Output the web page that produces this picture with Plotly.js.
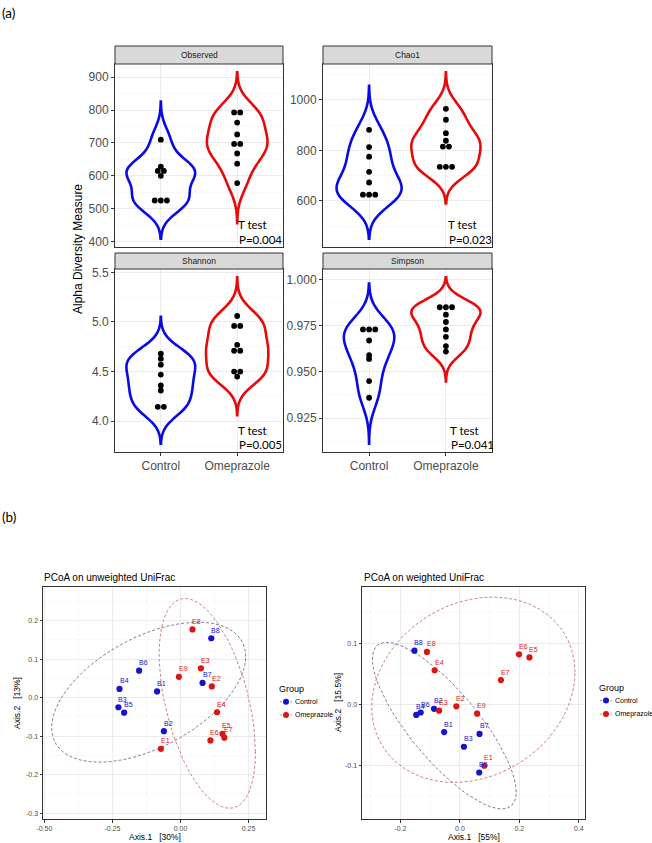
<!DOCTYPE html>
<html><head><meta charset="utf-8">
<script src="https://cdn.plot.ly/plotly-3.0.1.min.js"></script>
<style>html,body{margin:0;padding:0;background:#fff}</style>
</head><body><div id="chart" style="width:652px;height:843px"></div>
<script>
// ================= DATA =================
const groups = ['Control', 'Omeprazole'];
const metricNames = ['Observed', 'Chao1', 'Shannon', 'Simpson'];
const pValueLabels = ['P=0.004', 'P=0.023', 'P=0.005', 'P=0.041'];
const testLabel = 'T test';

const observedControl    = [710, 628, 615, 615, 600, 525, 525, 525];
const observedOmeprazole = [793, 793, 762, 726, 697, 697, 668, 637, 578];
const chao1Control       = [881, 813, 775, 715, 673, 625, 625, 625];
const chao1Omeprazole    = [964, 921, 868, 838, 815, 815, 735, 735, 735];
const shannonControl     = [4.68, 4.63, 4.57, 4.47, 4.36, 4.31, 4.145, 4.145];
const shannonOmeprazole  = [5.06, 4.96, 4.96, 4.77, 4.71, 4.71, 4.50, 4.50, 4.45];
const simpsonControl     = [0.973, 0.973, 0.973, 0.967, 0.959, 0.957, 0.945, 0.936];
const simpsonOmeprazole  = [0.985, 0.985, 0.985, 0.981, 0.977, 0.973, 0.969, 0.964, 0.961];

const observedTicks = [400, 500, 600, 700, 800, 900];
const observedTickText = ['400', '500', '600', '700', '800', '900'];
const chao1Ticks = [600, 800, 1000];
const chao1TickText = ['600', '800', '1000'];
const shannonTicks = [4.0, 4.5, 5.0, 5.5];
const shannonTickText = ['4.0', '4.5', '5.0', '5.5'];
const simpsonTicks = [0.925, 0.95, 0.975, 1.0];
const simpsonTickText = ['0.925', '0.950', '0.975', '1.000'];

// PCoA
const controlLabels = ['B1', 'B2', 'B3', 'B4', 'B5', 'B6', 'B7', 'B8'];
const omeprazoleLabels = ['E1', 'E2', 'E3', 'E4', 'E5', 'E6', 'E7', 'E8', 'E9'];

const unweightedControlAxis1 = [-0.086, -0.061, -0.228, -0.224, -0.207, -0.152, 0.081, 0.113];
const unweightedControlAxis2 = [0.016, -0.087, -0.025, 0.0225, -0.039, 0.070, 0.038, 0.154];
const unweightedOmeprazoleAxis1 = [-0.072, 0.115, 0.075, 0.134, 0.154, 0.110, 0.161, 0.044, -0.006];
const unweightedOmeprazoleAxis2 = [-0.133, 0.029, 0.076, -0.038, -0.094, -0.111, -0.104, 0.177, 0.054];

const weightedControlAxis1 = [-0.053, -0.087, 0.0135, -0.147, 0.065, -0.132, 0.066, -0.153];
const weightedControlAxis2 = [-0.045, -0.007, -0.069, -0.017, -0.111, -0.013, -0.048, 0.088];
const weightedOmeprazoleAxis1 = [0.082, -0.012, -0.070, -0.085, 0.234, 0.199, 0.138, -0.111, 0.058];
const weightedOmeprazoleAxis2 = [-0.100, -0.003, -0.010, 0.056, 0.077, 0.082, 0.040, 0.086, -0.015];

const pcoaTitles = ['PCoA on unweighted UniFrac', 'PCoA on weighted UniFrac'];
const axis1Titles = ['Axis.1   [30%]', 'Axis.1   [55%]'];
const axis2Titles = ['Axis.2   [13%]', 'Axis.2   [15.5%]'];
const legendTitle = 'Group';
const unweightedXTicks = [-0.5, -0.25, 0, 0.25];
const unweightedXTickText = ['-0.50', '-0.25', '0.00', '0.25'];
const unweightedYTicks = [-0.3, -0.2, -0.1, 0, 0.1, 0.2];
const unweightedYTickText = ['-0.3', '-0.2', '-0.1', '0.0', '0.1', '0.2'];
const weightedXTicks = [-0.2, 0, 0.2, 0.4];
const weightedXTickText = ['-0.2', '0.0', '0.2', '0.4'];
const weightedYTicks = [-0.1, 0, 0.1];
const weightedYTickText = ['-0.1', '0.0', '0.1'];

// ================= STYLE / LAYOUT CONSTANTS =================
const W = 652, H = 843;
const VIOLIN_COLORS = ['#0A0AE6', '#E60A0A'];
const POINT_COLORS = ['#1414CC', '#DD1414'];
const ELLIPSE_COLORS = ['#6E6E9E', '#C47474'];
const BASE_FONT = 'Liberation Sans, Arial, Helvetica, sans-serif';
const CAL_FONT = 'Lato, Carlito, Calibri, sans-serif';
const px = x => x / W;
const py = y => 1 - y / H;

// ================= HELPERS =================
function mean(a) { return a.reduce((s, v) => s + v, 0) / a.length; }
function q7(sorted, p) {
  const h = (sorted.length - 1) * p, lo = Math.floor(h);
  const hi = Math.min(lo + 1, sorted.length - 1);
  return sorted[lo] + (h - lo) * (sorted[hi] - sorted[lo]);
}
function bwNrd0(v) {
  const n = v.length, m = mean(v);
  const sd = Math.sqrt(v.reduce((s, x) => s + (x - m) * (x - m), 0) / (n - 1));
  const s = [...v].sort((a, b) => a - b);
  const iqr = q7(s, 0.75) - q7(s, 0.25);
  let lo = Math.min(sd, iqr / 1.34);
  if (!(lo > 0)) lo = sd || Math.abs(s[0]) || 1;
  return 0.9 * lo * Math.pow(n, -0.2);
}
function kdeMax(v, bw, from, to) {
  let mx = 0;
  for (let i = 0; i < 512; i++) {
    const y = from + (to - from) * i / 511;
    let d = 0;
    for (const x of v) d += Math.exp(-0.5 * ((y - x) / bw) ** 2);
    d /= v.length * bw * Math.sqrt(2 * Math.PI);
    if (d > mx) mx = d;
  }
  return mx;
}
function dotOffsets(vals, spacing) {
  const counts = {}, seen = {};
  vals.forEach(v => counts[v] = (counts[v] || 0) + 1);
  return vals.map(v => {
    const k = counts[v];
    const j = (seen[v] = (seen[v] || 0) + 1) - 1;
    return (j - (k - 1) / 2) * spacing;
  });
}
function minorFrom(ticks, lo, hi) {
  const step = (ticks[1] - ticks[0]) / 2;
  const out = [];
  for (let k = -40; k <= 80; k++) {
    const t = ticks[0] - step + 2 * step * k;
    if (t >= lo && t <= hi) out.push(+t.toFixed(6));
  }
  return out;
}
// MASS::cov.trob + ggplot2 stat_ellipse (type "t", level 0.95)
function tEllipse(xs, ys, level = 0.95, segments = 51) {
  const n = xs.length, p = 2, nu = 5;
  let loc = [mean(xs), mean(ys)];
  let w = new Array(n).fill(1);
  let dx, dy;
  for (let iter = 0; iter < 25; iter++) {
    const w0 = w.slice();
    dx = xs.map(v => v - loc[0]);
    dy = ys.map(v => v - loc[1]);
    const sw = w.reduce((a, b) => a + b, 0);
    let a = 0, b = 0, c = 0;
    for (let i = 0; i < n; i++) { a += w[i] * dx[i] * dx[i]; b += w[i] * dx[i] * dy[i]; c += w[i] * dy[i] * dy[i]; }
    a /= sw; b /= sw; c /= sw;
    const det = a * c - b * b;
    const Q = dx.map((_, i) => (c * dx[i] * dx[i] - 2 * b * dx[i] * dy[i] + a * dy[i] * dy[i]) / det);
    w = Q.map(q => (nu + p) / (nu + q));
    const sw2 = w.reduce((s, v) => s + v, 0);
    loc = [xs.reduce((s, v, i) => s + w[i] * v, 0) / sw2, ys.reduce((s, v, i) => s + w[i] * v, 0) / sw2];
    if (w.every((v, i) => Math.abs(v - w0[i]) < 0.01)) break;
  }
  let A = 0, B = 0, C = 0;
  for (let i = 0; i < n; i++) { A += w[i] * dx[i] * dx[i]; B += w[i] * dx[i] * dy[i]; C += w[i] * dy[i] * dy[i]; }
  A /= n; B /= n; C /= n;
  const R11 = Math.sqrt(A), R12 = B / R11, R22 = Math.sqrt(C - R12 * R12);
  const d = n - 1;
  const fq = (d / 2) * (Math.pow(1 - level, -2 / d) - 1);
  const r = Math.sqrt(2 * fq);
  const ex = [], ey = [];
  for (let s = 0; s <= segments; s++) {
    const t = s * 2 * Math.PI / segments;
    ex.push(loc[0] + r * Math.cos(t) * R11);
    ey.push(loc[1] + r * (Math.cos(t) * R12 + Math.sin(t) * R22));
  }
  return { x: ex, y: ey };
}

// ================= BUILD =================
const traces = [];
const shapes = [];
const annotations = [];
const layout = {
  width: W, height: H, margin: { l: 0, r: 0, t: 0, b: 0 },
  paper_bgcolor: '#fff', plot_bgcolor: '#fff',
  violinmode: 'overlay', showlegend: false, hovermode: false,
  font: { family: BASE_FONT, color: '#000' }
};

const axisCommon = {
  showline: true, mirror: true, linecolor: '#333', linewidth: 1,
  ticks: 'outside', ticklen: 3, tickwidth: 1, tickcolor: '#333',
  showgrid: true, gridcolor: '#EBEBEB', gridwidth: 1, zeroline: false,
  fixedrange: true, tickfont: { color: '#4D4D4D' }
};

const violinPanels = [
  { ctrl: observedControl, ome: observedOmeprazole, ticks: observedTicks, tt: observedTickText, rect: [115, 64, 283, 247], strip: 46, bottom: false, tx: 123 },
  { ctrl: chao1Control, ome: chao1Omeprazole, ticks: chao1Ticks, tt: chao1TickText, rect: [323, 64, 492, 247], strip: 46, bottom: false, tx: 125 },
  { ctrl: shannonControl, ome: shannonOmeprazole, ticks: shannonTicks, tt: shannonTickText, rect: [115, 269, 283, 452], strip: 253, bottom: true, tx: 123 },
  { ctrl: simpsonControl, ome: simpsonOmeprazole, ticks: simpsonTicks, tt: simpsonTickText, rect: [323, 269, 492, 452], strip: 253, bottom: true, tx: 127 }
];

violinPanels.forEach((pn, i) => {
  const k = i + 1;
  const xa = 'x' + k, ya = 'y' + k;
  const sets = [pn.ctrl, pn.ome];
  const info = sets.map(v => {
    const bw = bwNrd0(v);
    const lo = Math.min(...v) - 3 * bw, hi = Math.max(...v) + 3 * bw;
    return { bw, lo, hi, mx: kdeMax(v, bw, lo, hi) };
  });
  const pmax = Math.max(...info.map(o => o.mx));
  const lo = Math.min(...info.map(o => o.lo)), hi = Math.max(...info.map(o => o.hi));
  const ex = (hi - lo) * 0.05;
  const yr = [lo - ex, hi + ex];

  sets.forEach((v, g) => {
    traces.push({
      type: 'violin', x: v.map(() => g + 1), y: v, xaxis: xa, yaxis: ya,
      line: { color: VIOLIN_COLORS[g], width: 2.6 }, fillcolor: 'rgba(255,255,255,0)',
      points: false, box: { visible: false }, meanline: { visible: false },
      bandwidth: info[g].bw, spanmode: 'manual', span: [info[g].lo, info[g].hi],
      scalemode: 'width', width: 0.9 * info[g].mx / pmax,
      showlegend: false, hoverinfo: 'skip', name: groups[g]
    });
  });
  sets.forEach((v, g) => {
    const off = dotOffsets(v, 0.08);
    traces.push({
      type: 'scatter', mode: 'markers', x: v.map((_, j) => g + 1 + off[j]), y: v,
      xaxis: xa, yaxis: ya, marker: { color: '#000', size: 5.8 },
      showlegend: false, hoverinfo: 'skip'
    });
  });

  const r = pn.rect;
  layout['xaxis' + k] = Object.assign({}, axisCommon, {
    domain: [px(r[0]), px(r[2])], anchor: ya, range: [0.4, 2.6],
    tickmode: 'array', tickvals: [1, 2], ticktext: groups,
    showticklabels: pn.bottom, ticks: pn.bottom ? 'outside' : '',
    tickfont: { size: 12, color: '#4D4D4D' }
  });
  const mv = minorFrom(pn.ticks, yr[0], yr[1]);
  layout['yaxis' + k] = Object.assign({}, axisCommon, {
    domain: [py(r[3]), py(r[1])], anchor: xa, range: yr,
    tickmode: 'array', tickvals: pn.ticks, ticktext: pn.tt,
    tickfont: { size: 12, color: '#4D4D4D' },
    minor: { tickvals: mv, showgrid: true, gridcolor: '#F4F4F4', gridwidth: 0.6, ticks: '' }
  });

  // strip
  shapes.push({ type: 'rect', xref: 'paper', yref: 'paper', x0: px(r[0]), x1: px(r[2]), y0: py(r[1]), y1: py(pn.strip),
    fillcolor: '#D9D9D9', line: { color: '#333', width: 1 }, layer: 'above' });
  annotations.push({ xref: 'paper', yref: 'paper', x: px((r[0] + r[2]) / 2), y: py((r[1] + pn.strip) / 2),
    text: metricNames[i], showarrow: false, font: { size: 8.5, color: '#1A1A1A' }, xanchor: 'center', yanchor: 'middle' });
  // T test text
  annotations.push({ xref: 'paper', yref: 'paper', x: px(r[0] + pn.tx - 2), y: py(r[3] - 22), text: testLabel,
    showarrow: false, xanchor: 'left', yanchor: 'middle', font: { family: CAL_FONT, size: 11.5, color: '#000' } });
  annotations.push({ xref: 'paper', yref: 'paper', x: px(r[0] + pn.tx - 1), y: py(r[3] - 7), text: pValueLabels[i],
    showarrow: false, xanchor: 'left', yanchor: 'middle', font: { family: CAL_FONT, size: 11.5, color: '#000' } });
});

annotations.push({ xref: 'paper', yref: 'paper', x: px(78), y: py(249), text: 'Alpha Diversity Measure', textangle: -90,
  showarrow: false, xanchor: 'center', yanchor: 'middle', font: { size: 12, color: '#000' } });
annotations.push({ xref: 'paper', yref: 'paper', x: px(0), y: py(13), text: '(a)', showarrow: false,
  xanchor: 'left', yanchor: 'middle', font: { family: CAL_FONT, size: 13.5, color: '#000' } });
annotations.push({ xref: 'paper', yref: 'paper', x: px(0), y: py(517), text: '(b)', showarrow: false,
  xanchor: 'left', yanchor: 'middle', font: { family: CAL_FONT, size: 13.5, color: '#000' } });

// ---- PCoA ----
const pcoaPanels = [
  { cx: unweightedControlAxis1, cy: unweightedControlAxis2, ox: unweightedOmeprazoleAxis1, oy: unweightedOmeprazoleAxis2,
    rect: [43, 587, 266, 819], xr: [-0.505, 0.314], yr: [-0.315, 0.287],
    xt: unweightedXTicks, xtt: unweightedXTickText, yt: unweightedYTicks, ytt: unweightedYTickText,
    titleX: 42, ytitleX: 17, legTitleX: 277, legDotX: 286, legTextX: 293, legTitleY: 689, legRows: [701.7, 715] },
  { cx: weightedControlAxis1, cy: weightedControlAxis2, ox: weightedOmeprazoleAxis1, oy: weightedOmeprazoleAxis2,
    rect: [362, 587, 585, 819], xr: [-0.3295, 0.421], yr: [-0.187, 0.192],
    xt: weightedXTicks, xtt: weightedXTickText, yt: weightedYTicks, ytt: weightedYTickText,
    titleX: 362, ytitleX: 338, legTitleX: 597, legDotX: 606, legTextX: 613, legTitleY: 688, legRows: [700.5, 714] }
];

pcoaPanels.forEach((pn, i) => {
  const k = i + 5;
  const xa = 'x' + k, ya = 'y' + k;
  const sets = [[pn.cx, pn.cy, controlLabels], [pn.ox, pn.oy, omeprazoleLabels]];
  sets.forEach((s, g) => {
    const el = tEllipse(s[0], s[1]);
    traces.push({ type: 'scatter', mode: 'lines', x: el.x, y: el.y, xaxis: xa, yaxis: ya,
      line: { color: ELLIPSE_COLORS[g], width: 0.9, dash: '3px,2px' }, showlegend: false, hoverinfo: 'skip' });
  });
  sets.forEach((s, g) => {
    traces.push({ type: 'scatter', mode: 'markers', x: s[0], y: s[1], xaxis: xa, yaxis: ya,
      marker: { color: POINT_COLORS[g], size: 6.2 }, name: groups[g], showlegend: false, hoverinfo: 'skip' });
    s[2].forEach((lab, j) => {
      annotations.push({ xref: xa, yref: ya, x: s[0][j], y: s[1][j], text: lab, showarrow: false,
        xshift: 4.5, yshift: 8, font: { size: 7, color: POINT_COLORS[g] }, xanchor: 'center', yanchor: 'middle' });
    });
  });
  const r = pn.rect;
  layout['xaxis' + k] = Object.assign({}, axisCommon, {
    domain: [px(r[0]), px(r[2])], anchor: ya, range: pn.xr,
    tickmode: 'array', tickvals: pn.xt, ticktext: pn.xtt, ticklen: 2.5,
    tickfont: { size: 7, color: '#4D4D4D' },
    minor: { tickvals: minorFrom(pn.xt, pn.xr[0], pn.xr[1]), showgrid: true, gridcolor: '#F4F4F4', gridwidth: 0.6, ticks: '' }
  });
  layout['yaxis' + k] = Object.assign({}, axisCommon, {
    domain: [py(r[3]), py(r[1])], anchor: xa, range: pn.yr,
    tickmode: 'array', tickvals: pn.yt, ticktext: pn.ytt, ticklen: 2.5,
    tickfont: { size: 7, color: '#4D4D4D' },
    minor: { tickvals: minorFrom(pn.yt, pn.yr[0], pn.yr[1]), showgrid: true, gridcolor: '#F4F4F4', gridwidth: 0.6, ticks: '' }
  });
  annotations.push({ xref: 'paper', yref: 'paper', x: px(pn.titleX), y: py(577), text: pcoaTitles[i], showarrow: false,
    xanchor: 'left', yanchor: 'middle', font: { size: 10, color: '#000' } });
  annotations.push({ xref: 'paper', yref: 'paper', x: px((r[0] + r[2]) / 2), y: py(837), text: axis1Titles[i], showarrow: false,
    xanchor: 'center', yanchor: 'middle', font: { size: 8.5, color: '#000' } });
  annotations.push({ xref: 'paper', yref: 'paper', x: px(pn.ytitleX), y: py((r[1] + r[3]) / 2), text: axis2Titles[i], showarrow: false,
    textangle: -90, xanchor: 'center', yanchor: 'middle', font: { size: 8.5, color: '#000' } });

  // legend (key: dashed ellipse line + point)
  annotations.push({ xref: 'paper', yref: 'paper', x: px(pn.legTitleX), y: py(pn.legTitleY), text: legendTitle, showarrow: false,
    xanchor: 'left', yanchor: 'middle', font: { size: 9, color: '#000' } });
  groups.forEach((gname, g) => {
    const ry = pn.legRows[g];
    shapes.push({ type: 'line', xref: 'paper', yref: 'paper', x0: px(pn.legDotX - 6), x1: px(pn.legDotX + 6), y0: py(ry), y1: py(ry),
      line: { color: ELLIPSE_COLORS[g], width: 0.8, dash: '2px,1.5px' } });
    shapes.push({ type: 'circle', xref: 'paper', yref: 'paper', x0: px(pn.legDotX - 3), x1: px(pn.legDotX + 3), y0: py(ry + 3), y1: py(ry - 3),
      fillcolor: POINT_COLORS[g], line: { width: 0 } });
    annotations.push({ xref: 'paper', yref: 'paper', x: px(pn.legTextX), y: py(ry), text: gname, showarrow: false,
      xanchor: 'left', yanchor: 'middle', font: { size: 7, color: '#000' } });
  });
});

layout.shapes = shapes;
layout.annotations = annotations;
Plotly.newPlot('chart', traces, layout, { displayModeBar: false, staticPlot: true });
</script>
</body></html>
